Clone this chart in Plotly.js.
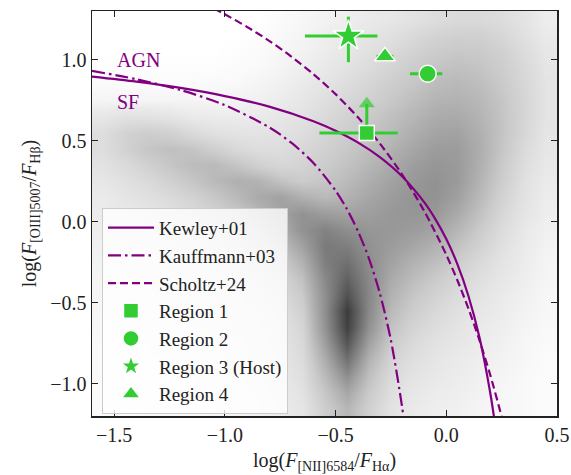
<!DOCTYPE html>
<html>
<head>
<meta charset="utf-8">
<script src="https://cdn.plot.ly/plotly-3.0.1.min.js"></script>
<style>html,body{margin:0;padding:0;background:#fff;}#plot{width:571px;height:475px;}</style>
</head>
<body>
<div id="plot"></div>
<script>
// ---- Background density (SDSS-like 2D histogram) ----
const histX = [-1.55,-1.45,-1.35,-1.25,-1.15,-1.05,-0.95,-0.85,-0.75,-0.65,-0.55,-0.45,-0.35,-0.25,-0.15,-0.05,0.05,0.15,0.25,0.35,0.45];
const histY = [-1.15,-1.05,-0.95,-0.85,-0.75,-0.65,-0.55,-0.45,-0.35,-0.25,-0.15,-0.05,0.05,0.15,0.25,0.35,0.45,0.55,0.65,0.75,0.85,0.95,1.05,1.15,1.25];
const histZ = [
[0.2,0.2,0.3,0.3,0.3,0.4,0.5,0.6,0.9,1.3,2.8,4.0,2.6,1.5,1.0,0.8,0.7,0.5,0.4,0.3,0.2],
[0.2,0.3,0.3,0.3,0.4,0.4,0.5,0.7,1.0,1.5,3.2,4.8,3.0,1.7,1.2,0.9,0.8,0.6,0.4,0.3,0.2],
[0.3,0.3,0.3,0.4,0.4,0.5,0.6,0.8,1.1,1.7,3.8,6.0,3.5,2.0,1.4,1.1,0.9,0.7,0.5,0.3,0.2],
[0.3,0.3,0.4,0.4,0.5,0.6,0.7,0.9,1.2,1.9,4.5,7.5,4.2,2.4,1.7,1.3,1.0,0.8,0.6,0.4,0.2],
[0.3,0.4,0.4,0.5,0.5,0.6,0.8,1.0,1.3,2.1,5.2,8.8,5.0,2.9,2.0,1.5,1.2,0.9,0.7,0.4,0.3],
[0.4,0.4,0.5,0.5,0.6,0.7,0.9,1.1,1.4,2.3,5.8,9.8,5.8,3.4,2.4,1.8,1.4,1.0,0.8,0.5,0.3],
[0.4,0.5,0.5,0.6,0.7,0.8,1.0,1.2,1.6,2.6,6.0,10,6.2,3.8,2.8,2.1,1.6,1.2,0.9,0.6,0.4],
[0.5,0.5,0.6,0.7,0.8,0.9,1.1,1.4,1.9,3.0,6.0,9.0,6.3,4.2,3.2,2.5,1.9,1.4,1.0,0.7,0.4],
[0.5,0.6,0.7,0.8,0.9,1.1,1.3,1.7,2.3,3.5,6.3,8.2,6.2,4.6,3.7,3.0,2.3,1.7,1.2,0.8,0.5],
[0.6,0.7,0.8,0.9,1.1,1.3,1.6,2.1,2.8,4.2,6.8,7.5,6.0,5.0,4.2,3.6,2.8,2.0,1.4,0.9,0.5],
[0.7,0.8,0.9,1.1,1.3,1.6,2.0,2.6,3.5,5.0,7.0,6.8,5.8,5.3,4.8,4.2,3.4,2.5,1.6,1.0,0.6],
[0.8,1.0,1.1,1.3,1.6,2.0,2.5,3.2,4.3,5.8,6.6,6.0,5.6,5.5,5.3,4.9,4.0,2.9,1.9,1.1,0.7],
[0.9,1.1,1.3,1.6,2.0,2.5,3.1,3.9,5.0,5.8,5.3,5.0,5.2,5.5,5.6,5.4,4.6,3.4,2.2,1.3,0.8],
[1.0,1.3,1.6,2.0,2.5,3.1,3.8,4.6,5.0,4.3,3.8,4.2,4.8,5.3,5.7,5.8,5.1,3.8,2.5,1.5,0.9],
[1.2,1.6,2.0,2.6,3.2,3.8,4.3,4.2,3.4,2.9,3.2,3.8,4.4,5.0,5.5,5.8,5.4,4.1,2.8,1.6,1.0],
[1.5,2.0,2.6,3.2,3.7,3.8,3.3,2.6,2.2,2.4,2.9,3.4,4.0,4.6,5.2,5.6,5.4,4.3,3.0,1.8,1.1],
[1.8,2.5,3.2,3.5,3.3,2.7,2.1,1.8,1.8,2.1,2.6,3.1,3.6,4.2,4.8,5.3,5.3,4.4,3.2,2.0,1.2],
[1.8,2.5,2.8,2.6,2.0,1.6,1.4,1.4,1.5,1.8,2.3,2.8,3.3,3.8,4.4,4.9,5.0,4.3,3.3,2.2,1.3],
[1.2,1.5,1.5,1.3,1.0,0.9,0.9,1.0,1.2,1.5,2.0,2.5,3.0,3.5,4.0,4.5,4.6,4.1,3.3,2.3,1.4],
[0.5,0.5,0.5,0.5,0.5,0.5,0.6,0.7,0.9,1.2,1.7,2.2,2.6,3.1,3.6,4.1,4.2,3.9,3.2,2.3,1.4],
[0.2,0.2,0.2,0.2,0.2,0.3,0.3,0.5,0.7,1.0,1.4,1.8,2.3,2.8,3.2,3.7,3.9,3.6,3.0,2.2,1.4],
[0.1,0.1,0.1,0.1,0.1,0.1,0.2,0.3,0.5,0.8,1.1,1.5,1.9,2.4,2.9,3.3,3.5,3.3,2.8,2.1,1.3],
[0,0,0,0,0,0,0.1,0.2,0.4,0.6,0.9,1.2,1.6,2.0,2.5,2.9,3.1,3.0,2.6,1.9,1.2],
[0,0,0,0,0,0,0,0.1,0.3,0.5,0.8,1.0,1.3,1.6,2.0,2.4,2.6,2.6,2.2,1.6,1.0],
[0,0,0,0,0,0,0,0,0.2,0.4,0.6,0.8,1.0,1.2,1.5,1.8,2.0,2.0,1.8,1.4,0.8]
];

// ---- Demarcation lines ----
const kewleyX = [-1.6,-1.4,-1.2,-1.0,-0.8,-0.6,-0.5,-0.4,-0.3,-0.2,-0.1,-0.05,0.0,0.05,0.1,0.15,0.2,0.22];
const kewleyY = [0.895,0.864,0.825,0.775,0.710,0.620,0.561,0.489,0.398,0.280,0.120,0.017,-0.108,-0.262,-0.459,-0.716,-1.069,-1.25];
const kauffX = [-1.6,-1.4,-1.2,-1.0,-0.8,-0.7,-0.6,-0.5,-0.45,-0.4,-0.35,-0.3,-0.25,-0.2,-0.18];
const kauffY = [0.930,0.879,0.812,0.719,0.582,0.487,0.362,0.191,0.080,-0.056,-0.225,-0.443,-0.733,-1.14,-1.352];
const scholtzX = [-1.05,-1.0,-0.9,-0.8,-0.7,-0.6,-0.5,-0.4,-0.3,-0.2,-0.1,0.0,0.05,0.1,0.15,0.2,0.25,0.27];
const scholtzY = [1.316,1.280,1.202,1.116,1.019,0.910,0.787,0.645,0.482,0.292,0.066,-0.205,-0.362,-0.537,-0.733,-0.954,-1.204,-1.314];

// ---- Regions ----
const regionNames = ['Region 1','Region 2','Region 3 (Host)','Region 4'];
const regionX = [-0.359, -0.084, -0.442, -0.277];
const regionY = [0.547, 0.913, 1.146, 1.02];
const regionXerrMinus = [0.214, 0.080, 0.196, 0.038];
const regionXerrPlus  = [0.140, 0.066, 0.131, 0.038];
const regionYerrMinus = [0, 0, 0.162, 0];
const regionYerrPlus  = [0, 0, 0.119, 0];
const regionLowerLimit = [0.18, 0, 0, 0];   // upward arrow length for lower limits
const regionSymbols = ['square','circle','star','triangle-up'];
const regionSizes = [15, 17, 23, 18];

const PURPLE = '#800080';
const GREEN = '#32cd32';
const FONT = 'Liberation Serif';

const traces = [];
traces.push({
  type:'heatmap', x: histX, y: histY, z: histZ, zsmooth:'best',
  zmin:0, zmax:10, showscale:false, hoverinfo:'skip',
  colorscale:[[0,'rgb(255,255,255)'],[0.1,'rgb(234,234,234)'],[0.3,'rgb(202,202,202)'],[0.5,'rgb(162,162,162)'],[0.75,'rgb(112,112,112)'],[1,'rgb(60,60,60)']]
});
traces.push({type:'scatter', mode:'lines', x:kewleyX, y:kewleyY, name:'Kewley+01',
  line:{color:PURPLE, width:2.2, shape:'spline', smoothing:0.8}});
traces.push({type:'scatter', mode:'lines', x:kauffX, y:kauffY, name:'Kauffmann+03',
  line:{color:PURPLE, width:2.2, dash:'13px,4px,2.5px,4px', shape:'spline', smoothing:0.8}});
traces.push({type:'scatter', mode:'lines', x:scholtzX, y:scholtzY, name:'Scholtz+24',
  line:{color:PURPLE, width:2.2, dash:'8px,4px', shape:'spline', smoothing:0.8}});

for (let i = 0; i < regionNames.length; i++) {
  if (regionLowerLimit[i] > 0) {
    traces.push({type:'scatter', mode:'lines+markers', showlegend:false, hoverinfo:'skip',
      x:[regionX[i], regionX[i]], y:[regionY[i], regionY[i] + regionLowerLimit[i]],
      line:{color:GREEN, width:3},
      marker:{symbol:['circle','triangle-up'], size:[0,14], color:GREEN, line:{width:0}}});
  }
  traces.push({
    type:'scatter', mode:'markers', name: regionNames[i],
    x:[regionX[i]], y:[regionY[i]],
    marker:{symbol: regionSymbols[i], size: regionSizes[i], color: GREEN, line:{color:'white', width:1.5}},
    error_x:{type:'data', symmetric:false, array:[regionXerrPlus[i]], arrayminus:[regionXerrMinus[i]], color:GREEN, thickness:3, width:0},
    error_y:{type:'data', symmetric:false, array:[regionYerrPlus[i]], arrayminus:[regionYerrMinus[i]], color:GREEN, thickness:3, width:0, visible: regionYerrPlus[i] > 0}
  });
}

const axisCommon = {
  showgrid:false, zeroline:false, showline:true, mirror:'ticks',
  linecolor:'#222', linewidth:1.5, ticks:'inside', ticklen:6, tickwidth:1.2, tickcolor:'#222',
  dtick:0.5, tick0:0, tickformat:'.1f', tickfont:{family:FONT, size:20, color:'#222'}
};

const layout = {
  width:571, height:475,
  margin:{l:92, r:14, t:11, b:59, pad:0},
  paper_bgcolor:'white', plot_bgcolor:'white',
  font:{family:FONT, size:20, color:'#222'},
  xaxis: Object.assign({}, axisCommon, {range:[-1.6,0.5],
    title:{text:'log(<i>F</i><sub>[NII]6584</sub>/<i>F</i><sub>Hα</sub>)', font:{family:FONT, size:20, color:'#222'}, standoff:8}}),
  yaxis: Object.assign({}, axisCommon, {range:[-1.2,1.3],
    title:{text:'log(<i>F</i><sub>[OIII]5007</sub>/<i>F</i><sub>Hβ</sub>)', font:{family:FONT, size:20, color:'#222'}, standoff:8}}),
  showlegend:true,
  legend:{x:0.0215, y:0.514, xanchor:'left', yanchor:'top',
    bgcolor:'rgba(255,255,255,0.8)', bordercolor:'#cccccc', borderwidth:1,
    font:{family:FONT, size:19, color:'#222'}, itemwidth:46, traceorder:'normal'},
  annotations:[
    {x:-1.496, y:0.997, xref:'x', yref:'y', text:'AGN', showarrow:false, xanchor:'left', yanchor:'middle',
      font:{family:FONT, size:20, color:PURPLE}},
    {x:-1.496, y:0.741, xref:'x', yref:'y', text:'SF', showarrow:false, xanchor:'left', yanchor:'middle',
      font:{family:FONT, size:20, color:PURPLE}}
  ]
};

Plotly.newPlot('plot', traces, layout, {displayModeBar:false, staticPlot:true});
</script>
</body>
</html>
